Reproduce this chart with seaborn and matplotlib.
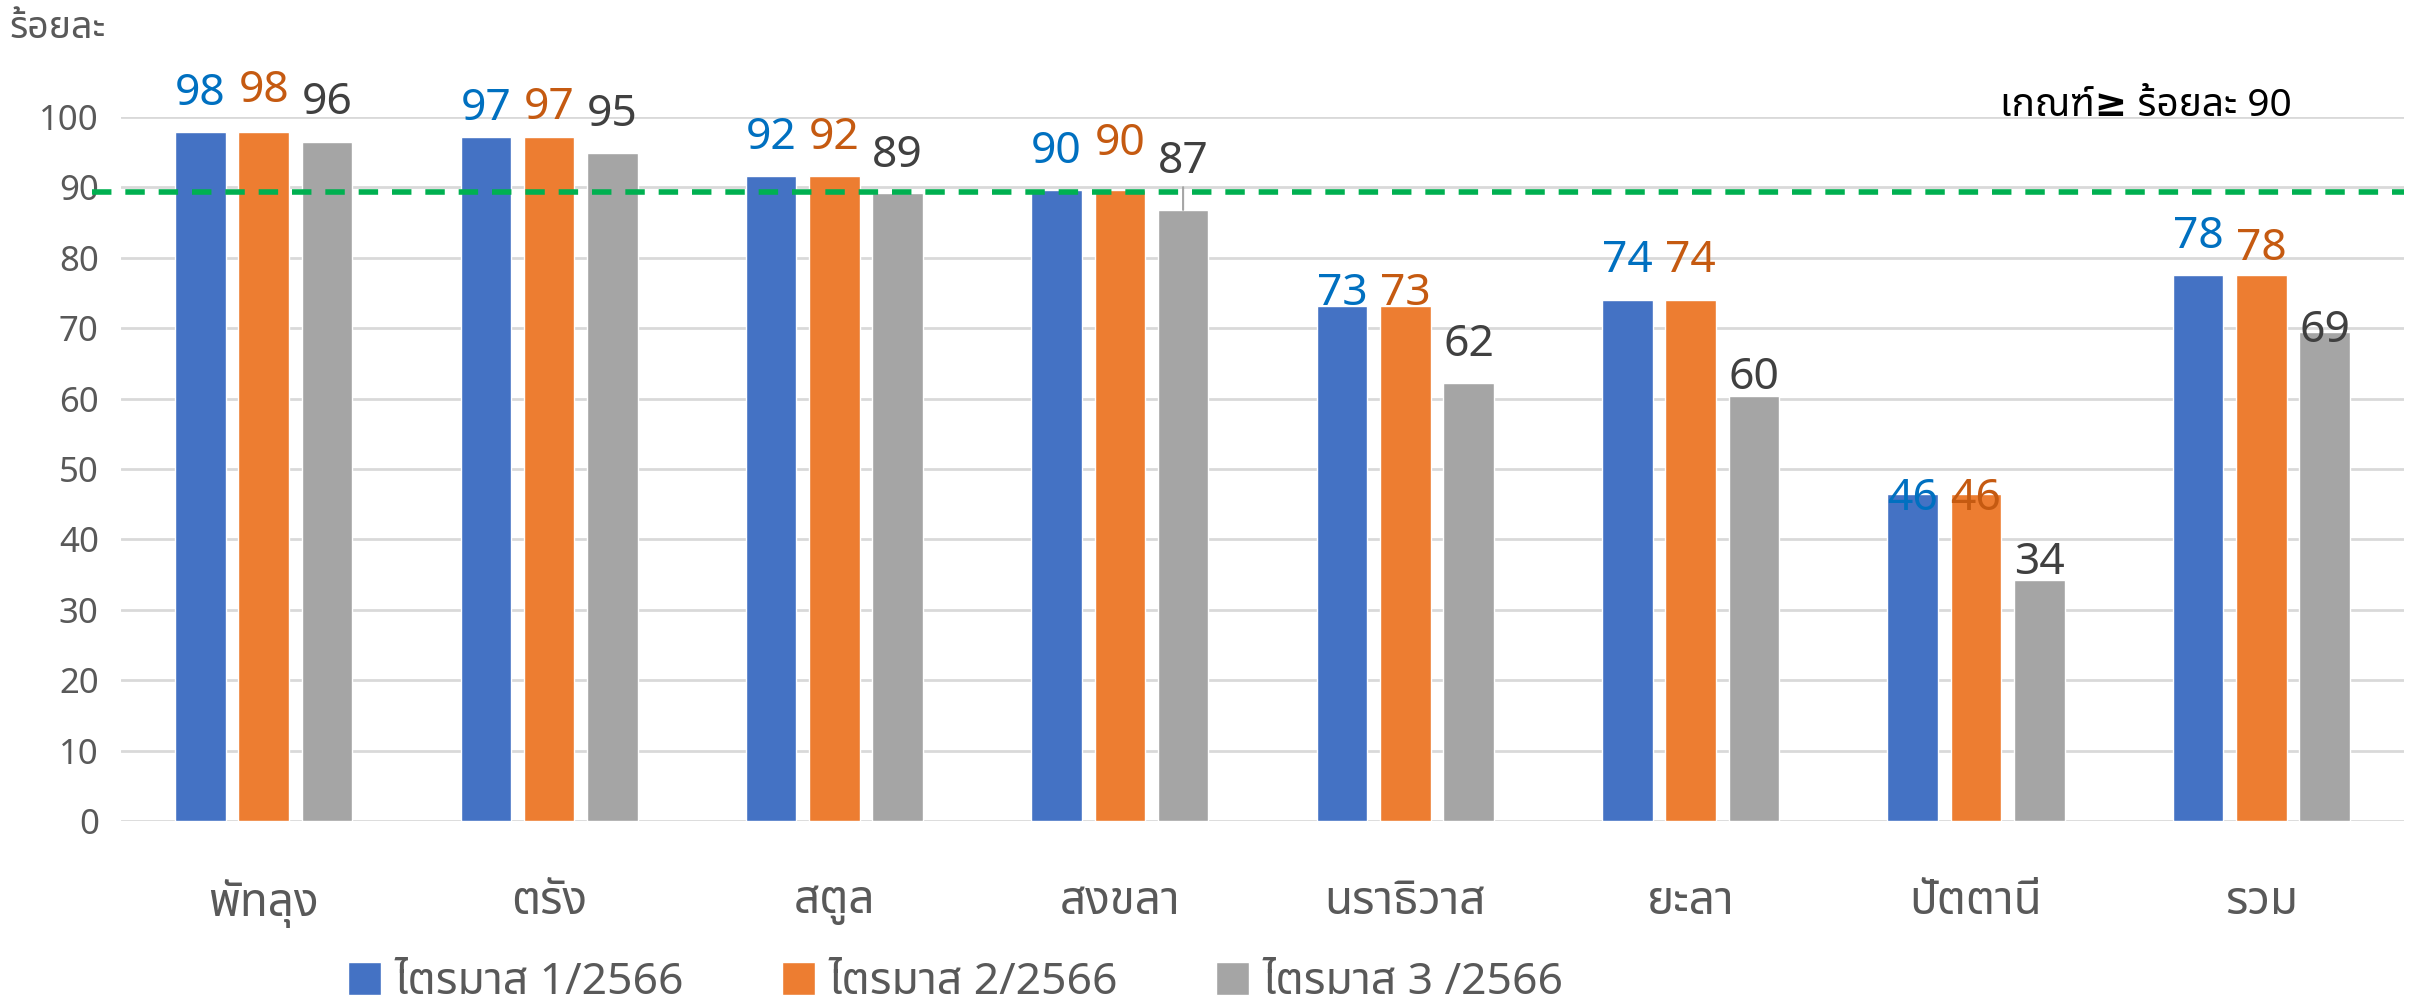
import numpy as np
import pandas as pd
import matplotlib
matplotlib.use("Agg")
import matplotlib.pyplot as plt
import seaborn as sns
from matplotlib import font_manager as fm
from matplotlib.ft2font import FT2Font

# ---------------- data ----------------
provinces = ["พัทลุง", "ตรัง", "สตูล", "สงขลา", "นราธิวาส", "ยะลา", "ปัตตานี", "รวม"]
quarters = ["ไตรมาส 1/2566", "ไตรมาส 2/2566", "ไตรมาส 3 /2566"]
q1_values = [97.8, 97.1, 91.6, 89.6, 73.2, 74.0, 46.4, 77.6]
q2_values = [97.8, 97.1, 91.6, 89.6, 73.2, 74.0, 46.4, 77.6]
q3_values = [96.4, 94.9, 89.2, 86.8, 62.2, 60.4, 34.2, 69.4]
threshold = 89.4
y_ticks = [0, 10, 20, 30, 40, 50, 60, 70, 80, 90, 100]
y_title = "ร้อยละ"
threshold_text = "เกณฑ์≥ ร้อยละ 90"

# ---------------- fonts ----------------
thai_fonts = []
seen = set()
for f in fm.fontManager.ttflist:
    if f.name in seen:
        continue
    try:
        cmap = FT2Font(f.fname).get_charmap()
    except Exception:
        continue
    if 0x0E23 in cmap and 0x0E31 in cmap:
        thai_fonts.append(f.name)
        seen.add(f.name)
pref = ["Noto Sans Thai", "Noto Sans Thai UI", "Loma", "Garuda", "Anuphan"]
chosen = None
for p in pref:
    if p in thai_fonts:
        chosen = p
        break
if chosen is None and thai_fonts:
    chosen = thai_fonts[0]
families = ([chosen] if chosen else []) + ["DejaVu Sans"]

sns.set_theme(style="white")
plt.rcParams["font.family"] = families

# ---------------- figure ----------------
fig = plt.figure(figsize=(24.2, 10.05), dpi=100)
ax = fig.add_axes([0.05, 0.1831, 0.9434, 0.7005])

df = pd.DataFrame({
    "province": provinces * 3,
    "quarter": [quarters[0]] * 8 + [quarters[1]] * 8 + [quarters[2]] * 8,
    "value": q1_values + q2_values + q3_values,
})
bar_colors = ["#4472C4", "#ED7D31", "#A5A5A5"]
label_colors = ["#0070C0", "#C55A11", "#404040"]

sns.barplot(data=df, x="province", y="value", hue="quarter", order=provinces,
            hue_order=quarters, palette=bar_colors, width=0.665, gap=0.2,
            errorbar=None, saturation=1, ax=ax, legend=True)

ax.set_ylim(0, 100)
ax.set_xlim(-0.5, len(provinces) - 0.5)
ax.set_yticks(y_ticks)
ax.yaxis.grid(True, color="#D9D9D9", linewidth=2)
ax.set_axisbelow(True)
for s in ax.spines.values():
    s.set_visible(False)
ax.set_xlabel("")
ax.set_ylabel("")
ax.tick_params(axis="y", labelsize=25, labelcolor="#595959", length=0, pad=16)
ax.tick_params(axis="x", labelsize=33, labelcolor="#595959", length=0, pad=42)

# threshold dashed line (slightly extends left of plot area)
ax.plot([-0.6, len(provinces) - 0.5], [threshold, threshold], color="#00B050",
        linewidth=4, linestyle=(0, (3.5, 2.5)), clip_on=False, zorder=5)

# data labels: per-bar pixel gap between bar top and label bottom
label_gap = [
    [16, 6, 16, 16, -10, 17, -27, 16],
    [19, 7, 16, 24, -10, 17, -27, 4],
    [17, 16, 15, 26, 16, -4, -5, -21],
]
for ci, cont in enumerate(ax.containers):
    for bi, rect in enumerate(cont.patches):
        h = rect.get_height()
        xc = rect.get_x() + rect.get_width() / 2
        kw = {}
        if ci == 2 and bi == 3:
            kw["arrowprops"] = dict(arrowstyle="-", color="#A5A5A5", lw=1.5,
                                    shrinkA=0, shrinkB=0)
        ax.annotate(f"{h:.0f}", xy=(xc, h), xytext=(0, label_gap[ci][bi]),
                    textcoords="offset pixels", ha="center", va="bottom",
                    fontsize=32, color=label_colors[ci], annotation_clip=False,
                    zorder=6, **kw)

# legend
handles, labels = ax.get_legend_handles_labels()
if ax.legend_:
    ax.legend_.remove()
fig.legend(handles, labels, loc="center", bbox_to_anchor=(0.395, 0.022), ncol=3,
           frameon=False, fontsize=32, handlelength=0.75, handleheight=0.75,
           handletextpad=0.3, columnspacing=2.2, labelcolor="#595959")

fig.text(0.004, 0.972, y_title, fontsize=27, color="#595959", ha="left", va="center")
fig.text(0.947, 0.895, threshold_text, fontsize=28, color="black", ha="right",
         va="center", fontweight="bold")

fig.savefig("out.png", dpi=100)
